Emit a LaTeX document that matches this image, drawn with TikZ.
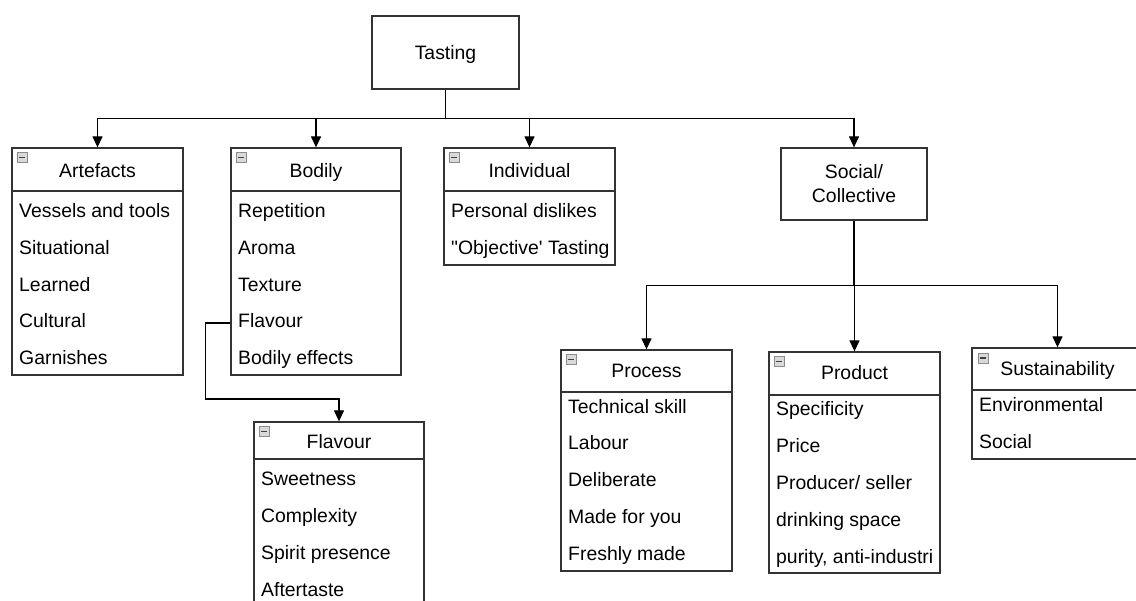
\documentclass[tikz,border=0pt]{standalone}
\usepackage{fontspec}
\setmainfont{Liberation Sans}
\usetikzlibrary{arrows.meta}
\tikzset{
  boxline/.style={draw=black!80, line width=1.3pt},
  box/.style={boxline, rectangle, inner sep=0pt, fill=white},
  hdr/.style={inner sep=0pt, font=\fontsize{19.4}{23}\selectfont, text height=14pt, text depth=4pt, yshift=-2pt},
  item/.style={inner sep=0pt, anchor=west, font=\fontsize{19.4}{23}\selectfont, text height=14pt, text depth=4pt, yshift=-2pt},
  conn/.style={draw=black, line width=1.3pt},
  arr/.style={conn, -{Triangle[length=11pt,width=10pt]}},
  minus/.style={rectangle, draw=black!45, fill=black!15, line width=0.6pt, minimum size=10pt, inner sep=0pt,
    path picture={\draw[black!75, line width=1.4pt] ([xshift=2pt]path picture bounding box.west) -- ([xshift=-2pt]path picture bounding box.east);}}
}
\begin{document}
\begin{tikzpicture}[x=1pt,y=-1pt]
\path[use as bounding box, clip] (0,0) rectangle (1136,601);
\fill[white] (0,0) rectangle (1136,601);

% Tasting
\node[box, minimum width=147pt, minimum height=73pt] (tast) at (445.5,52.5) {};
\node[hdr] (tastt) at (445.5,52.5) {Tasting};

% Artefacts
\node[box, minimum width=171pt, minimum height=227pt] (art) at (97.5,261.5) {};
\draw[boxline] (art.west |- 0,191) -- (art.east |- 0,191);
\node[hdr] (arth) at (97.5,171) {Artefacts};
\node[minus] (artm) at (22,157.5) {};
\foreach [count=\i] \t/\y in {Vessels and tools/211, Situational/248, Learned/285, Cultural/321, Garnishes/358}
  \node[item] (art\i) at (19,\y) {\t};

% Bodily
\node[box, minimum width=170pt, minimum height=227pt] (bod) at (316,261.5) {};
\draw[boxline] (bod.west |- 0,191) -- (bod.east |- 0,191);
\node[hdr] (bodh) at (316,171) {Bodily};
\node[minus] (bodm) at (241,157.5) {};
\foreach [count=\i] \t/\y in {Repetition/211, Aroma/248, Texture/285, Flavour/321, Bodily effects/358}
  \node[item] (bod\i) at (238,\y) {\t};

% Individual
\node[box, minimum width=171pt, minimum height=117pt] (ind) at (529.5,206.5) {};
\draw[boxline] (ind.west |- 0,191) -- (ind.east |- 0,191);
\node[hdr] (indh) at (529.5,171) {Individual};
\node[minus] (indm) at (454,157.5) {};
\node[item] (ind1) at (451,211) {Personal dislikes};
\node[item] (ind2) at (451,248) {\textquotedbl Objective\textquotesingle{} Tasting};

% Social / Collective
\node[box, minimum width=146pt, minimum height=72pt] (soc) at (854,184) {};
\node[hdr] (soc1) at (854,172) {Social/};
\node[hdr] (soc2) at (854,196) {Collective};

% Process
\node[box, minimum width=171pt, minimum height=221pt] (proc) at (646.5,460.5) {};
\draw[boxline] (proc.west |- 0,392) -- (proc.east |- 0,392);
\node[hdr] (proch) at (646.5,371) {Process};
\node[minus] (procm) at (571,359.5) {};
\foreach [count=\i] \t/\y in {Technical skill/407, Labour/443, Deliberate/480, Made for you/517, Freshly made/553}
  \node[item] (proc\i) at (568,\y) {\t};

% Product
\node[box, minimum width=171pt, minimum height=221pt] (prod) at (854.5,462.5) {};
\draw[boxline] (prod.west |- 0,395) -- (prod.east |- 0,395);
\node[hdr] (prodh) at (854.5,373) {Product};
\node[minus] (prodm) at (779,361.5) {};
\foreach [count=\i] \t/\y in {Specificity/409, Price/446, {Producer/ seller}/483, drinking space/520, {purity, anti-industri}/556}
  \node[item] (prod\i) at (776,\y) {\t};

% Sustainability
\node[box, minimum width=171pt, minimum height=111pt] (sus) at (1057.5,403.5) {};
\draw[boxline] (sus.west |- 0,390) -- (sus.east |- 0,390);
\node[hdr] (sush) at (1057.5,369) {Sustainability};
\node[minus] (susm) at (983,358) {};
\node[item] (sus1) at (979,405) {Environmental};
\node[item] (sus2) at (979,442) {Social};

% Flavour
\node[box, minimum width=170pt, minimum height=185pt] (flv) at (339,514.5) {};
\draw[boxline] (flv.west |- 0,459) -- (flv.east |- 0,459);
\node[hdr] (flvh) at (339,442) {Flavour};
\node[minus] (flvm) at (264,431.5) {};
\foreach [count=\i] \t/\y in {Sweetness/479, Complexity/515, Spirit presence/552, Aftertaste/589}
  \node[item] (flv\i) at (261,\y) {\t};

% connectors
\foreach \n in {art, bod, ind, soc}
  \draw[arr] (tast.south) -- ++(0,29) -| (\n.north);
\foreach \n in {proc, prod, sus}
  \draw[arr] (soc.south) -- ++(0,65) -| (\n.north);
\draw[arr] (bod.west |- bod4) -- ++(-25,0) -- ++(0,76) -| (flv.north);
\end{tikzpicture}
\end{document}
